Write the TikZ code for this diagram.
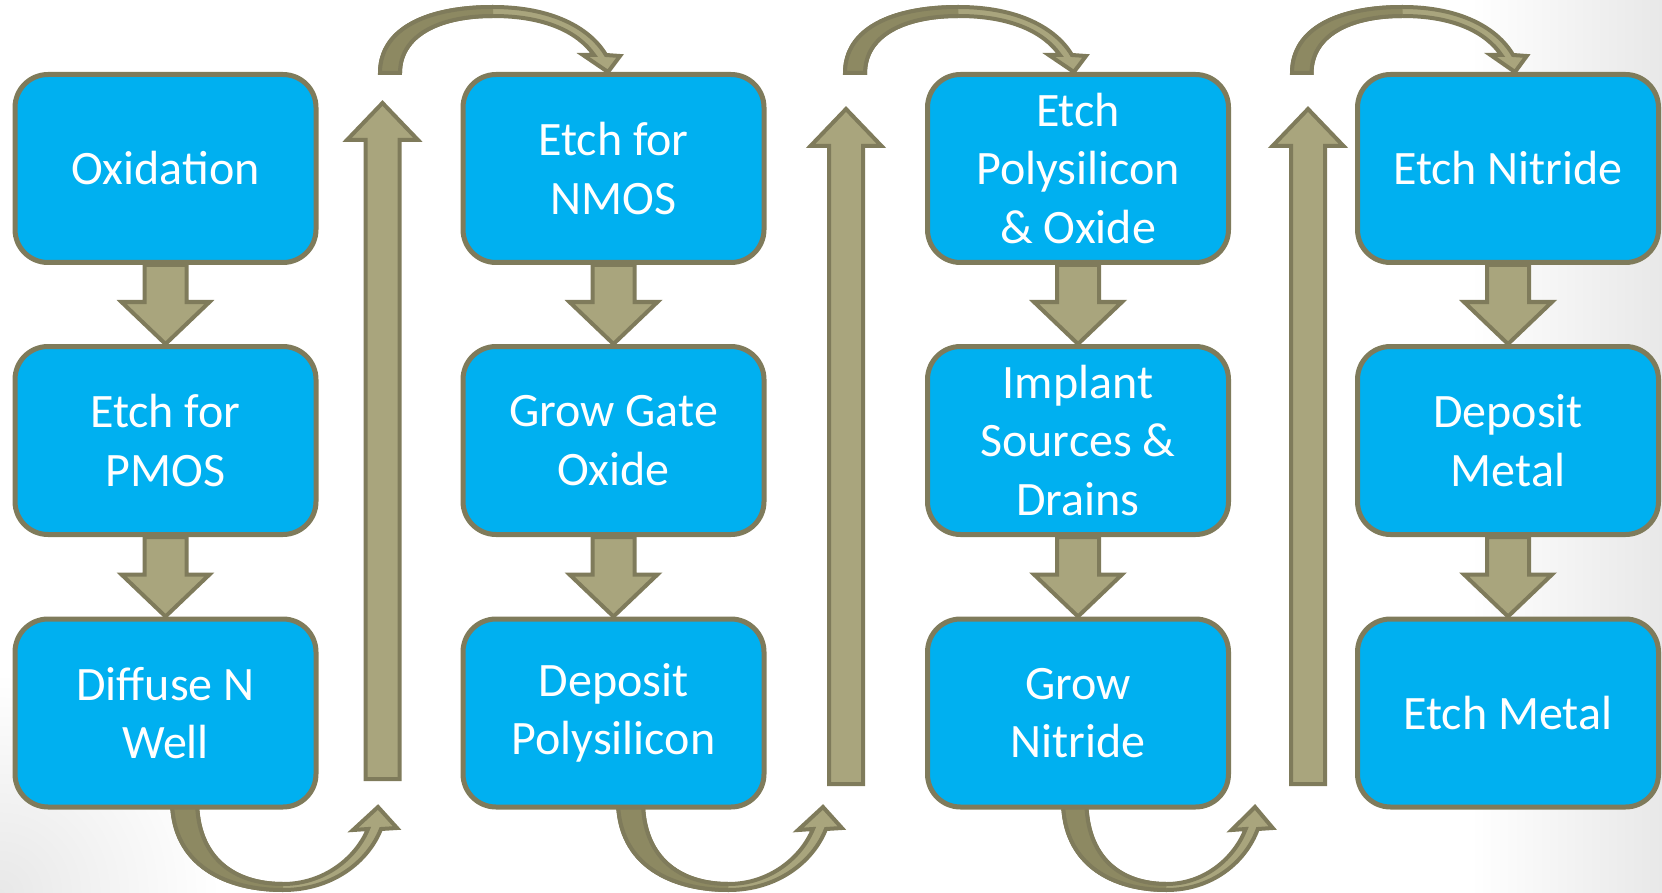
\documentclass[tikz,border=0pt]{standalone}
\usepackage{fontspec}
\setmainfont{Carlito}
\usetikzlibrary{positioning}

\definecolor{boxblue}{HTML}{00B0F0}
\definecolor{boxline}{HTML}{7F7B5B}
\definecolor{arrowfill}{HTML}{A9A57D}
\definecolor{arrowshade}{HTML}{8D8962}

\tikzset{
  stepbox/.style={rectangle, rounded corners=33pt, draw=boxline, line width=5pt,
    fill=boxblue, text=white, minimum width=301pt, minimum height=188pt,
    inner sep=0pt, align=center, font=\fontsize{48}{58.5}\selectfont},
  blockarrow/.style={draw=boxline, fill=arrowfill, line width=4pt, line join=miter},
  arcedge/.style={draw=boxline, line width=4pt},
}

% short arrow from one box down to the next
\newcommand{\stepdown}[2]{%
  \draw[blockarrow] ([xshift=-21pt]#1.south) -- ([xshift=21pt]#1.south)
    -- ([xshift=21pt,yshift=42pt]#2.north) -- ([xshift=44pt,yshift=42pt]#2.north)
    -- (#2.north) -- ([xshift=-44pt,yshift=42pt]#2.north)
    -- ([xshift=-21pt,yshift=42pt]#2.north) -- cycle;}

% tall arrow back up between two columns
\newcommand{\riseup}[2]{%
  \draw[blockarrow] ([xshift=-17pt]#1) -- ([xshift=17pt]#1)
    -- ([xshift=17pt,yshift=-37pt]#2) -- ([xshift=35.5pt,yshift=-37pt]#2)
    -- (#2) -- ([xshift=-35.5pt,yshift=-37pt]#2)
    -- ([xshift=-17pt,yshift=-37pt]#2) -- cycle;}

% curved arrow under a column (start x, width factor)
\newcommand{\underarc}[2]{%
  \begin{scope}[xshift=#1pt, xscale=#2]
    \filldraw[blockarrow] (0,800) .. controls (0,866) and (55,890) .. (111,890)
      .. controls (160,890) and (196,862) .. (209,829) -- (225,828) -- (206,807)
      -- (181,830) -- (196,829) .. controls (184,858) and (152,884) .. (111,884)
      .. controls (62,884) and (25,858) .. (25,800) -- cycle;
    \fill[arrowshade] (0,800) .. controls (0,866) and (55,890) .. (111,890)
      -- (111,884) .. controls (62,884) and (25,858) .. (25,800) -- cycle;
    \draw[arcedge] (0,800) .. controls (0,866) and (55,890) .. (111,890);
    \draw[arcedge] (111,884) .. controls (62,884) and (25,858) .. (25,800);
  \end{scope}}

% curved arrow over the top into the next column (start x, width factor)
\newcommand{\overarc}[2]{%
  \begin{scope}[xshift=#1pt, xscale=#2]
    \filldraw[blockarrow] (0,73) .. controls (0,28) and (48,7) .. (113,7)
      .. controls (172,7) and (210,28) .. (226,55) -- (240,56) -- (228,72)
      -- (203,55) -- (214,55) .. controls (198,32) and (165,16) .. (113,16)
      .. controls (58,16) and (20,36) .. (20,73) -- cycle;
    \fill[arrowshade] (0,73) .. controls (0,28) and (48,7) .. (113,7)
      -- (113,16) .. controls (58,16) and (20,36) .. (20,73) -- cycle;
    \draw[arcedge] (0,73) .. controls (0,28) and (48,7) .. (113,7);
    \draw[arcedge] (113,16) .. controls (58,16) and (20,36) .. (20,73) -- (0,73);
  \end{scope}}

\begin{document}
\begin{tikzpicture}[x=1pt, y=-1pt]
  \useasboundingbox (0,0) rectangle (1662,893);
  % faint grey at the edges of the slide
  \shade[left color=white, right color=black!9] (1470,0) rectangle (1662,893);
  \shade[inner color=black!9, outer color=white] (0,893) circle (220);

  % loops under the columns
  \underarc{172}{1}
  \underarc{618}{0.995}
  \underarc{1063}{0.932}

  % tall arrows between the columns
  \coordinate (riseA) at (382.5,779);  \coordinate (riseAtip) at (382.5,103);
  \coordinate (riseB) at (846,784);    \coordinate (riseBtip) at (846,109);
  \coordinate (riseC) at (1308,784);   \coordinate (riseCtip) at (1308,109);
  \riseup{riseA}{riseAtip}
  \riseup{riseB}{riseBtip}
  \riseup{riseC}{riseCtip}

  % process steps
  \node[stepbox] (ox)  at (165.5,168.5) {Oxidation};
  \node[stepbox] (etp) at (165.5,440.5) {Etch for\\PMOS};
  \node[stepbox] (dnw) at (165.5,713)   {Diffuse N\\Well};

  \node[stepbox] (etn) at (613.5,168.5) {Etch for\\NMOS};
  \node[stepbox] (ggo) at (613.5,440.5) {Grow Gate\\Oxide};
  \node[stepbox] (dpo) at (613.5,713)   {Deposit\\Polysilicon};

  \node[stepbox] (epo) at (1078,168.5) {Etch\\Polysilicon\\\& Oxide};
  \node[stepbox] (isd) at (1078,440.5) {Implant\\Sources \&\\Drains};
  \node[stepbox] (gni) at (1078,713)   {Grow\\Nitride};

  \node[stepbox] (eni) at (1508,168.5) {Etch Nitride};
  \node[stepbox] (dme) at (1508,440.5) {Deposit\\Metal};
  \node[stepbox] (eme) at (1508,713)   {Etch Metal};

  \stepdown{ox}{etp}  \stepdown{etp}{dnw}
  \stepdown{etn}{ggo} \stepdown{ggo}{dpo}
  \stepdown{epo}{isd} \stepdown{isd}{gni}
  \stepdown{eni}{dme} \stepdown{dme}{eme}

  % loops over the top
  \overarc{380}{1}
  \overarc{845}{1.004}
  \overarc{1292}{0.978}
\end{tikzpicture}
\end{document}
